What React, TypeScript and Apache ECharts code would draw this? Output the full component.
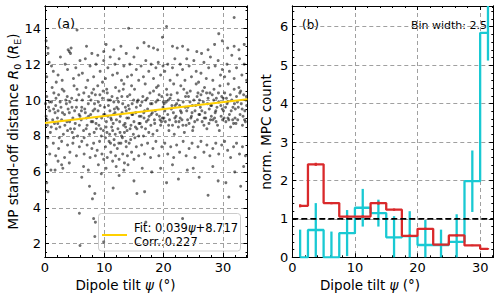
import React, { useEffect, useRef } from 'react';
import * as echarts from 'echarts';

// ---------- Panel (a): MP stand-off distance vs dipole tilt ----------
const coreBand: [number, number][] = [
  [0.2,9.1],[0.4,8.6],[0.3,10.2],[0.6,9.6],[0.9,8.2],[1.1,9.9],[1.3,8.9],[1.5,10.4],[1.7,9.3],[1.9,8.4],[0.5,7.9],[1.2,10.7],[0.8,9.4],[1.6,8.7],[0.1,9.8],[1.8,9.7],
  [2.1,9.0],[2.3,10.3],[2.5,8.5],[2.7,9.6],[2.9,10.6],[3.1,8.1],[3.3,9.2],[3.5,10.0],[3.7,8.8],[3.9,9.5],[2.4,7.9],[2.8,8.9],[3.2,10.5],[3.6,9.8],[2.2,9.4],[3.8,8.3],
  [4.1,9.3],[4.3,8.4],[4.5,10.1],[4.7,9.0],[4.9,10.8],[5.1,8.7],[5.3,9.6],[5.5,8.0],[5.7,10.3],[5.9,9.1],[4.2,9.9],[4.6,8.2],[5.0,9.4],[5.4,10.6],[5.8,8.6],[4.8,7.9],
  [6.1,8.9],[6.3,10.0],[6.5,8.3],[6.7,9.5],[6.9,10.7],[7.1,8.6],[7.3,9.8],[7.5,8.1],[7.7,9.2],[7.9,10.4],[6.2,9.6],[6.6,7.9],[7.0,9.0],[7.4,10.2],[7.8,8.8],[6.8,9.3],
  [8.1,9.4],[8.3,8.2],[8.5,10.3],[8.7,9.0],[8.9,10.8],[9.1,8.6],[9.3,9.7],[9.5,8.0],[9.7,10.1],[9.9,9.2],[8.2,10.6],[8.6,8.7],[9.0,9.9],[9.4,8.4],[9.8,10.5],[8.4,9.5],
  [10.1,9.2],[10.3,8.5],[10.5,10.4],[10.7,9.7],[10.9,8.1],[11.1,9.0],[11.3,10.2],[11.5,8.7],[11.7,9.5],[11.9,10.7],[10.2,7.9],[10.6,9.1],[11.0,10.0],[11.4,8.3],[11.8,9.3],[10.4,10.6],[11.2,8.9],[11.6,9.9],
  [12.1,9.6],[12.3,8.4],[12.5,10.5],[12.7,9.1],[12.9,8.0],[13.1,9.8],[13.3,10.9],[13.5,8.7],[13.7,9.4],[13.9,10.2],[12.2,10.1],[12.6,8.8],[13.0,9.3],[13.4,8.2],[13.8,9.0],[12.4,9.9],[13.2,10.6],[13.6,8.5],
  [14.1,9.0],[14.3,10.3],[14.5,8.6],[14.7,9.8],[14.9,8.1],[15.1,10.6],[15.3,9.3],[15.5,8.4],[15.7,10.0],[15.9,9.1],[14.2,9.5],[14.6,10.8],[15.0,8.8],[15.4,9.6],[15.8,8.0],[14.8,9.2],
  [16.1,9.7],[16.3,8.5],[16.5,10.2],[16.7,9.0],[16.9,10.9],[17.1,8.8],[17.3,9.5],[17.5,8.2],[17.7,10.4],[17.9,9.2],[16.2,9.1],[16.6,8.0],[17.0,10.0],[17.4,8.9],[17.8,9.8],[16.8,9.4],
  [18.1,9.3],[18.3,10.5],[18.5,8.7],[18.7,9.9],[18.9,8.3],[19.1,10.8],[19.3,9.1],[19.5,8.6],[19.7,10.2],[19.9,9.6],[18.2,8.1],[18.6,9.4],[19.0,10.0],[19.4,8.9],[19.8,9.0],[18.8,10.7],
  [20.1,9.8],[20.3,8.8],[20.5,10.6],[20.7,9.2],[20.9,8.3],[21.1,10.1],[21.3,9.5],[21.5,8.6],[21.7,10.9],[21.9,9.0],[20.2,9.4],[20.6,10.3],[21.0,8.9],[21.4,9.7],[21.8,8.1],[20.8,10.0],
  [22.1,9.1],[22.3,10.4],[22.5,8.5],[22.7,9.7],[22.9,10.8],[23.1,8.9],[23.3,9.9],[23.5,8.2],[23.7,10.2],[23.9,9.4],[22.2,9.8],[22.6,8.8],[23.0,9.3],[23.4,10.6],[23.8,8.6],[22.8,9.0],
  [24.1,9.6],[24.3,8.7],[24.5,10.5],[24.7,9.1],[24.9,8.3],[25.1,10.0],[25.3,9.4],[25.5,10.9],[25.7,8.9],[25.9,9.8],[24.2,10.2],[24.6,9.0],[25.0,8.5],[25.4,9.7],[25.8,10.4],[24.8,9.3],
  [26.1,9.2],[26.3,10.3],[26.5,8.8],[26.7,9.9],[26.9,10.7],[27.1,9.0],[27.3,8.4],[27.5,10.1],[27.7,9.5],[27.9,8.9],[26.2,9.6],[26.6,10.5],[27.0,9.3],[27.4,9.8],[27.8,10.4],[26.8,8.6],
  [28.1,9.7],[28.3,8.9],[28.5,10.6],[28.7,9.3],[28.9,10.1],[29.1,8.6],[29.3,9.9],[29.5,10.8],[29.7,9.1],[29.9,9.5],[28.2,10.3],[28.6,9.0],[29.0,9.6],[29.4,8.3],[29.8,10.2],[28.8,9.4],
  [30.1,9.4],[30.3,10.4],[30.5,8.8],[30.7,9.8],[30.9,10.9],[31.1,9.2],[31.3,8.5],[31.5,10.0],[31.7,9.6],[31.9,10.6],[30.2,9.0],[30.6,10.1],[31.0,8.9],[31.4,9.4],[31.8,8.7],[30.8,9.9],
  [32.1,9.5],[32.3,10.2],[32.5,8.9],[32.7,10.7],[32.9,9.2],[33.1,9.8],[33.3,8.6],[33.5,10.3],[33.7,9.4],[33.9,10.0],[32.2,8.7],[32.6,9.6],[33.0,10.5],[33.4,9.1],[33.8,8.8],[34.0,9.7],
];

const coreDense: [number, number][] = [
  [0.35,8.9],[0.75,9.9],[1.05,8.5],[1.45,9.5],[1.85,10.1],
  [2.15,8.7],[2.55,9.9],[2.95,9.3],[3.35,8.6],[3.75,10.2],
  [4.15,8.8],[4.55,9.6],[4.95,8.4],[5.35,10.0],[5.75,9.2],
  [6.15,9.4],[6.55,10.4],[6.95,8.4],[7.35,9.1],[7.75,10.0],
  [8.05,8.8],[8.35,9.8],[8.65,8.4],[8.95,9.4],[9.25,10.3],[9.55,9.0],[9.85,8.3],
  [10.05,9.6],[10.35,8.8],[10.65,10.0],[10.95,9.4],[11.25,8.5],[11.55,9.2],[11.85,8.1],[10.45,8.2],[11.05,7.6],[11.65,7.8],
  [12.05,8.9],[12.35,9.5],[12.65,8.2],[12.95,10.2],[13.25,8.6],[13.55,9.6],[13.85,8.3],[12.45,7.6],[13.05,7.9],[13.65,7.7],
  [14.05,9.7],[14.35,8.4],[14.65,9.2],[14.95,10.0],[15.25,8.5],[15.55,9.9],[15.85,8.7],[14.45,7.8],[15.15,7.9],
  [16.05,8.7],[16.35,9.9],[16.65,9.3],[16.95,8.4],[17.25,10.1],[17.55,9.1],[17.85,8.6],
  [18.05,9.8],[18.45,8.9],[18.85,9.2],[19.25,10.3],[19.65,8.8],[19.95,9.9],
  [20.05,9.0],[20.45,9.9],[20.85,8.6],[21.25,10.3],[21.65,9.3],[21.95,9.7],
  [22.05,8.8],[22.45,10.0],[22.85,9.4],[23.25,8.6],[23.65,9.6],[23.95,10.4],
  [24.05,8.9],[24.45,9.9],[24.85,9.7],[25.25,8.8],[25.65,10.2],[25.95,9.2],
  [26.05,10.0],[26.45,9.4],[26.85,9.0],[27.25,10.4],[27.65,8.7],[27.95,9.7],
  [28.05,9.1],[28.45,10.0],[28.85,8.8],[29.25,10.4],[29.65,9.7],[29.95,8.9],
  [30.05,10.1],[30.45,9.6],[30.85,9.0],[31.25,10.3],[31.65,8.9],[31.95,9.8],
  [32.05,9.0],[32.45,9.9],[32.85,10.4],[33.25,9.5],[33.65,8.9],[33.95,10.2],
];

const upperBand: [number, number][] = [
  [0.3,11.3],[0.7,12.1],[1.4,11.6],[1.9,11.0],[0.5,12.6],[1.1,11.9],
  [2.2,11.4],[2.9,11.1],[3.4,12.0],[3.8,11.7],[2.6,12.4],
  [4.1,12.7],[4.4,12.9],[4.8,11.2],[5.2,11.8],[5.7,11.4],[5.9,12.2],
  [6.3,11.5],[6.8,12.3],[7.2,11.1],[7.6,11.9],[7.9,12.6],
  [8.2,11.3],[8.6,12.0],[8.9,12.5],[9.3,11.6],[9.7,11.0],[9.9,12.2],
  [10.2,11.2],[10.6,11.8],[11.0,12.4],[11.4,11.4],[11.8,12.0],
  [12.2,11.5],[12.5,12.3],[12.9,11.1],[13.3,11.9],[13.7,12.6],[13.9,11.3],
  [14.3,12.0],[14.6,11.4],[15.0,12.4],[15.4,11.7],[15.8,11.1],
  [16.2,11.9],[16.6,11.3],[17.0,12.2],[17.5,11.6],[17.9,12.0],
  [18.3,11.2],[18.7,11.8],[19.1,12.1],[19.5,11.4],[19.9,11.9],
  [20.2,11.6],[20.7,12.0],[21.1,11.1],[21.5,11.8],[21.9,12.3],
  [22.3,11.4],[22.8,12.0],[23.2,11.7],[23.6,11.1],[23.9,12.3],
  [24.3,11.9],[24.7,11.3],[25.1,12.2],[25.5,11.6],[25.9,11.0],
  [26.3,11.5],[26.8,12.1],[27.2,11.2],[27.6,11.8],[27.9,12.4],
  [28.3,11.1],[28.7,11.9],[29.2,12.2],[29.6,11.4],[29.9,11.7],
  [30.3,11.3],[30.7,12.0],[31.1,11.6],[31.5,12.5],[31.9,11.2],
  [32.3,11.8],[32.8,12.3],[33.2,11.4],[33.6,12.0],[34.0,11.1],
];

const topBand: [number, number][] = [
  [0.5,12.9],[0.2,13.3],[3.9,12.8],[4.3,12.6],[5.4,13.9],[7.0,13.0],[9.9,12.7],[10.3,13.1],
  [11.6,12.8],[12.8,13.0],[14.1,14.0],[15.6,12.9],[16.7,13.2],[17.5,13.0],[18.3,12.9],[19.0,12.8],
  [19.8,13.5],[20.5,14.1],[21.5,13.0],[22.3,12.9],[23.2,13.0],[24.1,12.8],[25.6,12.7],[26.4,12.6],
  [27.5,12.8],[28.6,13.1],[29.3,13.7],[29.9,13.3],[30.8,12.9],[31.9,14.6],[31.9,13.0],[32.7,12.8],[33.6,13.1],
];

const lowerBand: [number, number][] = [
  [0.3,7.4],[0.8,7.0],[1.4,7.6],[1.8,6.9],
  [2.3,7.3],[2.8,7.7],[3.3,6.8],[3.8,7.5],
  [4.2,7.1],[4.7,7.6],[5.3,6.9],[5.8,7.4],
  [6.2,7.7],[6.6,7.0],[7.1,7.5],[7.6,6.8],[7.9,7.3],
  [8.2,7.6],[8.5,6.9],[8.8,7.2],[9.2,7.7],[9.6,7.0],[9.9,6.7],
  [10.2,7.4],[10.5,6.8],[10.8,7.7],[11.1,7.1],[11.4,6.6],[11.7,7.5],[11.9,6.9],
  [12.2,7.3],[12.5,6.7],[12.8,7.6],[13.1,7.0],[13.4,6.5],[13.7,7.4],[13.9,6.9],
  [14.2,7.6],[14.6,7.1],[15.0,6.7],[15.4,7.4],[15.8,6.9],
  [16.3,7.5],[16.8,7.0],[17.3,7.6],[17.8,6.8],
  [18.2,7.3],[18.7,7.7],[19.2,6.9],[19.7,7.4],
  [20.2,7.6],[20.7,7.0],[21.2,7.4],[21.7,6.8],
  [22.2,7.5],[22.7,7.1],[23.3,7.7],[23.8,6.9],
  [24.3,7.3],[24.8,7.6],[25.3,6.8],[25.8,7.4],
  [26.3,7.7],[26.8,7.1],[27.3,7.5],[27.8,6.9],
  [28.3,7.3],[28.8,7.6],[29.3,7.0],[29.8,7.5],
  [30.3,7.7],[30.8,7.2],[31.3,6.8],[31.8,7.4],
  [32.3,7.6],[32.8,7.0],[33.3,7.4],[33.8,6.9],
];

const lowBand: [number, number][] = [
  [0.2,6.4],[0.3,5.4],[0.5,4.9],[1.0,6.1],[1.7,6.1],[2.8,6.4],[2.2,6.6],[3.0,6.2],[4.1,6.5],
  [5.8,3.7],[5.9,1.9],[6.2,5.7],[6.5,6.3],[7.3,6.1],[7.5,5.2],[8.0,4.5],[8.4,4.8],[8.2,3.4],
  [8.5,3.2],[8.4,2.4],[9.9,2.1],[9.0,6.4],[9.5,5.9],[10.3,6.2],[11.5,5.1],[12.0,6.3],[12.5,5.8],
  [13.3,6.1],[14.0,6.4],[15.0,5.5],[15.5,4.8],[16.4,6.2],[16.8,4.9],[17.0,3.2],[18.0,6.0],
  [19.5,6.2],[20.5,5.4],[21.5,6.4],[22.5,5.6],[23.2,3.4],[24.0,6.1],[25.0,6.2],[26.0,5.7],
  [27.5,4.7],[28.3,6.3],[29.2,5.5],[30.5,5.4],[31.0,4.6],[32.0,6.0],[33.5,6.3],[33.0,5.2],
];

const fitSlope = 0.039;
const fitIntercept = 8.717;
const fitCorr = 0.227;

// ---------- Panel (b): normalised MPC count ----------
const binCenters = [1.25, 3.75, 6.25, 8.75, 11.25, 13.75, 16.25, 18.75, 21.25, 23.75, 26.25, 28.75, 31.25];
const redValues = [1.34, 2.42, 1.41, 1.06, 1.06, 1.41, 1.24, 0.56, 0.74, 0.33, 0.57, 0.31, 0.22];
const redErrors = [0.04, 0.04, 0.03, 0.03, 0.03, 0.04, 0.03, 0.03, 0.03, 0.02, 0.03, 0.02, 0.02];
const cyanValues = [0, 0.71, 0, 0.63, 1.29, 1.15, 0.52, 0.55, 0.32, 0.32, 0.4, 1.98, 5.84];
const cyanErrors = [0.72, 0.7, 0.67, 0.6, 0.49, 0.35, 0.55, 0.65, 0.65, 0.4, 0.72, 0.8, 0.72];
const refLevel = 1;
const binWidth = 2.5;

// ---------- axes / ticks ----------
const xTicksA = [0, 10, 20, 30];
const yTicksA = [2, 4, 6, 8, 10, 12, 14];
const xTicksB = [0, 10, 20, 30];
const yTicksB = [0, 1, 2, 3, 4, 5, 6];
const xRangeA: [number, number] = [0, 34.15];
const yRangeA: [number, number] = [1.26, 15.24];
const xRangeB: [number, number] = [0, 32.1];
const yRangeB: [number, number] = [0, 6.54];

const range = (a: number, b: number, s: number) => {
  const out: number[] = [];
  for (let v = a; v <= b + 1e-9; v += s) out.push(Math.round(v * 100) / 100);
  return out;
};

const FONT = 'DejaVu Sans';
const CYAN = '#19c9d3';
const RED = '#d9292b';
const GOLD = '#ffd000';

function makeAxis(
  dim: 'x' | 'y', gridIndex: number, rng: [number, number], position: string,
  ticks: number[], len: number, labels: boolean, grid: boolean,
) {
  return {
    type: 'value', gridIndex, min: rng[0], max: rng[1], position,
    axisLine: { show: true, onZero: false, lineStyle: { color: '#000', width: 1 } },
    axisTick: { show: true, inside: true, length: len, customValues: ticks, lineStyle: { color: '#000', width: 1 } },
    axisLabel: {
      show: labels, customValues: ticks, margin: 4,
      color: '#000', fontFamily: FONT, fontSize: 13,
    },
    splitLine: { show: grid, lineStyle: { color: '#a0a0a0', width: 1, type: [4, 3] } },
    minorTick: { show: false }, minorSplitLine: { show: false },
  };
}

function errorSeries(values: number[], errors: number[], color: string, width: number) {
  return {
    type: 'custom', xAxisIndex: 4, yAxisIndex: 4, silent: true,
    data: binCenters.map((c, i) => [c, values[i] - errors[i], values[i] + errors[i]]),
    encode: { x: 0, y: [1, 2] },
    renderItem: (params: any, api: any) => {
      const x = api.value(0);
      const p1 = api.coord([x, api.value(1)]);
      const p2 = api.coord([x, api.value(2)]);
      const cs = params.coordSys;
      const cl = (y: number) => Math.max(cs.y, Math.min(cs.y + cs.height, y));
      return {
        type: 'line',
        shape: { x1: p1[0], y1: cl(p1[1]), x2: p2[0], y2: cl(p2[1]) },
        style: { stroke: color, lineWidth: width },
      };
    },
  };
}

export default function App() {
  const ref = useRef<HTMLDivElement>(null);
  useEffect(() => {
    if (!ref.current) return;
    const chart = echarts.init(ref.current, undefined, { renderer: 'svg' });
    const scatterData = [...coreBand, ...coreDense, ...upperBand, ...topBand, ...lowerBand, ...lowBand];
    const fitData = xRangeA.map((x) => [x, fitSlope * x + fitIntercept]);

    const xAxis = [
      makeAxis('x', 0, xRangeA, 'bottom', xTicksA, 4, true, true),
      makeAxis('x', 0, xRangeA, 'bottom', range(0, 34, 2), 2, false, false),
      makeAxis('x', 0, xRangeA, 'top', xTicksA, 4, false, false),
      makeAxis('x', 0, xRangeA, 'top', range(0, 34, 2), 2, false, false),
      makeAxis('x', 1, xRangeB, 'bottom', xTicksB, 4, true, true),
      makeAxis('x', 1, xRangeB, 'bottom', range(0, 32, 2), 2, false, false),
      makeAxis('x', 1, xRangeB, 'top', xTicksB, 4, false, false),
      makeAxis('x', 1, xRangeB, 'top', range(0, 32, 2), 2, false, false),
    ];
    const yAxis = [
      makeAxis('y', 0, yRangeA, 'left', yTicksA, 4, true, true),
      makeAxis('y', 0, yRangeA, 'left', range(1.5, 15, 0.5), 2, false, false),
      makeAxis('y', 0, yRangeA, 'right', yTicksA, 4, false, false),
      makeAxis('y', 0, yRangeA, 'right', range(1.5, 15, 0.5), 2, false, false),
      makeAxis('y', 1, yRangeB, 'left', yTicksB, 4, true, true),
      makeAxis('y', 1, yRangeB, 'left', range(0, 6.4, 0.2), 2, false, false),
      makeAxis('y', 1, yRangeB, 'right', yTicksB, 4, false, false),
      makeAxis('y', 1, yRangeB, 'right', range(0, 6.4, 0.2), 2, false, false),
    ];

    const italic = { fontStyle: 'italic', fontFamily: FONT, fontSize: 13.5, fill: '#000' };
    const sub = { fontFamily: FONT, fontSize: 9.5, fill: '#000', verticalAlign: 'bottom', padding: [8, 0, 0, 0] };

    chart.setOption({
      animation: false,
      backgroundColor: '#fff',
      grid: [
        { left: 45, top: 6, width: 202.5, height: 251 },
        { left: 292.3, top: 6, width: 201, height: 251.3 },
      ],
      xAxis,
      yAxis,
      series: [
        {
          type: 'scatter', xAxisIndex: 0, yAxisIndex: 0, silent: true,
          data: scatterData, symbol: 'circle', symbolSize: 3,
          itemStyle: { color: 'rgba(0,0,0,0.7)' },
        },
        {
          type: 'line', xAxisIndex: 0, yAxisIndex: 0, silent: true, data: fitData,
          showSymbol: false, lineStyle: { color: GOLD, width: 2 }, z: 3,
        },
        {
          type: 'line', xAxisIndex: 4, yAxisIndex: 4, silent: true, step: 'middle',
          data: binCenters.map((c, i) => [c, cyanValues[i]]),
          showSymbol: false, lineStyle: { color: CYAN, width: 2.3 },
        },
        errorSeries(cyanValues, cyanErrors, CYAN, 2.3),
        {
          type: 'line', xAxisIndex: 4, yAxisIndex: 4, silent: true, step: 'middle',
          data: binCenters.map((c, i) => [c, redValues[i]]),
          showSymbol: false, lineStyle: { color: RED, width: 2.3 }, z: 3,
        },
        { ...errorSeries(redValues, redErrors, RED, 2.3), z: 3 },
        {
          type: 'line', xAxisIndex: 4, yAxisIndex: 4, silent: true,
          data: xRangeB.map((x) => [x, refLevel]),
          showSymbol: false, lineStyle: { color: '#000', width: 1.8, type: [6, 3] }, z: 4,
        },
      ],
      graphic: [
        { type: 'text', x: 57, y: 23, style: { text: '(a)', fontFamily: FONT, fontSize: 13, fill: '#000', verticalAlign: 'middle' } },
        { type: 'text', x: 302, y: 25, style: { text: '(b)', fontFamily: FONT, fontSize: 12, fill: '#000', verticalAlign: 'middle' } },
        { type: 'text', x: 487, y: 25, style: { text: `Bin width: ${binWidth}`, fontFamily: FONT, fontSize: 11, fill: '#000', align: 'right', verticalAlign: 'middle' } },
        {
          type: 'text', x: 125.5, y: 285,
          style: { text: 'Dipole tilt {i|ψ} (°)', fontFamily: FONT, fontSize: 13.5, fill: '#000', align: 'center', verticalAlign: 'middle', rich: { i: italic } },
        },
        {
          type: 'text', x: 370, y: 285,
          style: { text: 'Dipole tilt {i|ψ} (°)', fontFamily: FONT, fontSize: 13.5, fill: '#000', align: 'center', verticalAlign: 'middle', rich: { i: italic } },
        },
        {
          type: 'text', x: 13, y: 131.5, rotation: Math.PI / 2,
          style: {
            text: 'MP stand-off distance {i|R}{s|0} ({i|R}{s|E})', fontFamily: FONT, fontSize: 13.5, fill: '#000',
            align: 'center', verticalAlign: 'middle', rich: { i: italic, s: sub },
          },
        },
        {
          type: 'text', x: 266, y: 132, rotation: Math.PI / 2,
          style: { text: 'norm. MPC count', fontFamily: FONT, fontSize: 13.5, fill: '#000', align: 'center', verticalAlign: 'middle' },
        },
        {
          type: 'group', z: 100,
          children: [
            { type: 'rect', shape: { x: 98.5, y: 213.5, width: 142, height: 37.5, r: 3 }, style: { fill: 'rgba(255,255,255,0.8)', stroke: '#cccccc', lineWidth: 1 } },
            { type: 'line', shape: { x1: 102, y1: 235, x2: 127, y2: 235 }, style: { stroke: GOLD, lineWidth: 2 } },
            {
              type: 'text', x: 134, y: 227.5,
              style: {
                text: `Fit: ${fitSlope.toFixed(3)}{i|ψ}+${fitIntercept.toFixed(3)}`, fontFamily: FONT, fontSize: 11.5, fill: '#000',
                verticalAlign: 'middle', rich: { i: { fontStyle: 'italic', fontFamily: FONT, fontSize: 11.5, fill: '#000' } },
              },
            },
            {
              type: 'text', x: 134, y: 241.5,
              style: { text: `Corr.:${fitCorr.toFixed(3)}`, fontFamily: FONT, fontSize: 11.5, fill: '#000', verticalAlign: 'middle' },
            },
          ],
        },
      ],
    });
    return () => chart.dispose();
  }, []);
  return <div ref={ref} style={{ width: 500, height: 299, position: 'absolute', left: 0, top: 0 }} />;
}
